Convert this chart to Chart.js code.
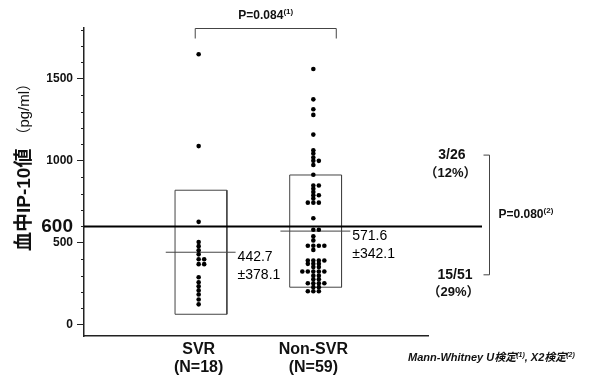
<!DOCTYPE html>
<html>
<head>
<meta charset="utf-8">
<script src="https://cdn.jsdelivr.net/npm/chart.js@4.4.0/dist/chart.umd.min.js"></script>
<style>
  html, body { margin: 0; padding: 0; background: #fff; }
  #wrap { width: 605px; height: 379px; }
</style>
</head>
<body>
<div id="wrap"><canvas id="chart" width="605" height="379"></canvas></div>
<script>
// values
const categories = ["SVR", "Non-SVR"];
const groupSizes = ["(N=18)", "(N=59)"];
const svrValues = [1650, 1090, 628, 505, 480, 455, 430, 400, 400, 370, 370,
  290, 260, 235, 210, 185, 155, 125];
const nonSvrValues = [1560, 1375, 1315, 1280, 1160, 1065, 1045, 1020, 1000, 1000,
  975, 915, 850, 850, 830, 810, 790, 790, 770, 745, 745, 745, 650,
  580, 580, 540, 515, 482, 482, 482, 482, 457, 392, 392, 392, 392,
  372, 372, 372, 352, 352, 325, 325, 325, 325, 325, 300, 300, 278, 278,
  254, 254, 254, 254, 230, 230, 205, 205, 205];
const means = [442.7, 571.6];
const sds = [378.1, 342.1];
const meanLabels = ["442.7", "571.6"];
const sdLabels = ["\u00b1378.1", "\u00b1342.1"];
const yTicks = [0, 500, 600, 1000, 1500];
const cutoff = 600;
const ratioLabels = ["3/26", "15/51"];
const pctLabels = ["\uff0812%\uff09", "\uff0829%\uff09"];
const pMann = ["P=0.084", "(1)"];
const pChi = ["P=0.080", "(2)"];

const FONT = '"Liberation Sans", Arial, "Noto Sans CJK JP", sans-serif';
const INK = "#111";
const LINE = "#444";
const STEP = 0.048;

// same values sit side by side: centre, right, left, ...
function spread(values, center) {
  const seen = {};
  const order = [0, 1, -1, 2, -2, 3, -3];
  return values.map(v => {
    const k = seen[v] || 0;
    seen[v] = k + 1;
    return { x: center + order[k] * STEP, y: v };
  });
}

function boxPoints(i) {
  const cx = i + 1 + 0.02, hw = 0.226;
  const lo = means[i] - sds[i], hi = means[i] + sds[i];
  return [{x: cx - hw, y: lo}, {x: cx - hw, y: hi}, {x: cx + hw, y: hi},
          {x: cx + hw, y: lo}, {x: cx - hw, y: lo}];
}

function meanPoints(i) {
  return [{x: i + 1 - 0.287, y: means[i]}, {x: i + 1 + 0.322, y: means[i]}];
}

function drawRich(ctx, parts, x, y, align) {
  let w = 0;
  parts.forEach(p => { ctx.font = p.font; w += ctx.measureText(p.t).width; });
  let cx = align === "center" ? x - w / 2 : x;
  ctx.textAlign = "left";
  ctx.textBaseline = "middle";
  parts.forEach(p => {
    ctx.font = p.font;
    ctx.fillText(p.t, cx, y + (p.dy || 0));
    cx += ctx.measureText(p.t).width;
  });
}

const extras = {
  id: "extras",
  afterDraw(chart) {
    const ctx = chart.ctx;
    const xs = chart.scales.x, ys = chart.scales.y;
    const area = chart.chartArea;
    ctx.save();
    ctx.fillStyle = INK;

    // minor ticks every 100
    ctx.strokeStyle = "#222";
    ctx.lineWidth = 1;
    for (let v = 100; v <= 1800; v += 100) {
      if (v % 500 === 0) continue;
      const py = Math.round(ys.getPixelForValue(v)) + 0.5;
      ctx.beginPath();
      ctx.moveTo(area.left - 3, py);
      ctx.lineTo(area.left, py);
      ctx.stroke();
    }

    // 600 cut-off line
    const y600 = ys.getPixelForValue(cutoff);
    ctx.strokeStyle = "#000";
    ctx.lineWidth = 2;
    ctx.beginPath();
    ctx.moveTo(area.left, y600);
    ctx.lineTo(area.right + 54, y600);
    ctx.stroke();

    // y title
    ctx.save();
    ctx.translate(25, 251);
    ctx.rotate(-Math.PI / 2);
    ctx.textBaseline = "middle";
    ctx.textAlign = "left";
    ctx.font = "bold 19px " + FONT;
    ctx.fillText("\u8840\u4e2dIP-10\u5024", 0, 0);
    const w1 = ctx.measureText("\u8840\u4e2dIP-10\u5024").width;
    ctx.font = "15px " + FONT;
    ctx.fillText("\uff08pg/ml\uff09", w1 + 6, 0);
    ctx.restore();

    // top bracket + Mann-Whitney p
    const bl = xs.getPixelForValue(0.97), br = xs.getPixelForValue(2.2);
    const bt = area.top + 0.5;
    ctx.strokeStyle = LINE;
    ctx.lineWidth = 1;
    ctx.beginPath();
    ctx.moveTo(bl, bt + 10);
    ctx.lineTo(bl, bt);
    ctx.lineTo(br, bt);
    ctx.lineTo(br, bt + 10);
    ctx.stroke();
    drawRich(ctx, [
      {t: pMann[0], font: "bold 12px " + FONT},
      {t: pMann[1], font: "bold 8px " + FONT, dy: -4}
    ], (bl + br) / 2, 16, "center");

    // mean +/- sd labels
    ctx.font = "14px " + FONT;
    ctx.fillStyle = "#000";
    ctx.textAlign = "left";
    ctx.textBaseline = "middle";
    for (let i = 0; i < 2; i++) {
      const px = xs.getPixelForValue(i + 1 + 0.322) + 2;
      const py = ys.getPixelForValue(means[i]);
      ctx.fillText(meanLabels[i], px, py + 5);
      ctx.fillText(sdLabels[i], px, py + 23);
    }
    ctx.fillStyle = INK;

    // right bracket + chi-square p
    const rx = area.right + 61.5;
    const rTop = ys.getPixelForValue(1035), rBot = ys.getPixelForValue(305);
    ctx.strokeStyle = LINE;
    ctx.beginPath();
    ctx.moveTo(rx - 6, rTop);
    ctx.lineTo(rx, rTop);
    ctx.lineTo(rx, rBot);
    ctx.lineTo(rx - 6, rBot);
    ctx.stroke();
    ctx.font = "bold 14px " + FONT;
    ctx.textAlign = "right";
    ctx.fillText(ratioLabels[0], rx - 24, rTop);
    ctx.fillText(ratioLabels[1], rx - 17, rBot);
    ctx.textAlign = "center";
    ctx.font = "bold 13px " + FONT;
    ctx.fillText(pctLabels[0], rx - 39, rTop + 18);
    ctx.fillText(pctLabels[1], rx - 36, rBot + 18);
    drawRich(ctx, [
      {t: pChi[0], font: "bold 12px " + FONT},
      {t: pChi[1], font: "bold 8px " + FONT, dy: -4}
    ], rx + 9, (rTop + rBot) / 2, "left");

    // footnote
    drawRich(ctx, [
      {t: "Mann-Whitney U\u691c\u5b9a", font: "italic bold 11px " + FONT},
      {t: "(1)", font: "italic bold 7px " + FONT, dy: -3},
      {t: ", \u03a72\u691c\u5b9a", font: "italic bold 11px " + FONT},
      {t: "(2)", font: "italic bold 7px " + FONT, dy: -3}
    ], 408, 358, "left");

    ctx.restore();
  }
};

Chart.defaults.font.family = FONT;
Chart.defaults.color = INK;

const datasets = [
  {
    label: categories[0],
    data: spread(svrValues, 1),
    pointRadius: 2.3,
    backgroundColor: "#000",
    borderWidth: 0
  },
  {
    label: categories[1],
    data: spread(nonSvrValues, 2),
    pointRadius: 2.3,
    backgroundColor: "#000",
    borderWidth: 0
  }
];
for (let i = 0; i < 2; i++) {
  datasets.push({
    type: "line", data: boxPoints(i), showLine: true, fill: false,
    borderColor: LINE, borderWidth: 1, pointRadius: 0, tension: 0
  });
  datasets.push({
    type: "line", data: meanPoints(i), showLine: true, fill: false,
    borderColor: LINE, borderWidth: 1, pointRadius: 0, tension: 0
  });
}

new Chart(document.getElementById("chart"), {
  type: "scatter",
  data: { datasets },
  options: {
    responsive: false,
    animation: false,
    layout: { padding: { left: 0, right: 177, top: 28, bottom: 0 } },
    plugins: { legend: { display: false }, tooltip: { enabled: false } },
    scales: {
      x: {
        type: "linear",
        min: 0,
        max: 3,
        afterBuildTicks: (scale) => { scale.ticks = [{value: 1}, {value: 2}]; },
        afterFit: (scale) => { scale.height = 43; },
        grid: { display: false, drawTicks: false },
        border: { display: true, color: "#222", width: 1.5 },
        ticks: {
          padding: 5,
          font: { size: 16, weight: "bold", lineHeight: 1.1 },
          color: INK,
          callback: (v, i) => [categories[i], groupSizes[i]]
        }
      },
      y: {
        min: -68,
        max: 1810,
        afterBuildTicks: (scale) => { scale.ticks = yTicks.map(v => ({value: v})); },
        afterFit: (scale) => { scale.width = 84; },
        grid: {
          drawOnChartArea: false,
          tickLength: 7,
          tickColor: (c) => (c.tick && c.tick.value === cutoff ? "rgba(0,0,0,0)" : "#222")
        },
        border: { display: true, color: "#222", width: 1.5 },
        ticks: {
          padding: 4,
          color: INK,
          font: (c) => (c.tick && c.tick.value === cutoff
            ? { size: 19, weight: "bold" }
            : { size: 12, weight: "bold" }),
          callback: (v) => String(v)
        }
      }
    }
  },
  plugins: [extras]
});
</script>
</body>
</html>
